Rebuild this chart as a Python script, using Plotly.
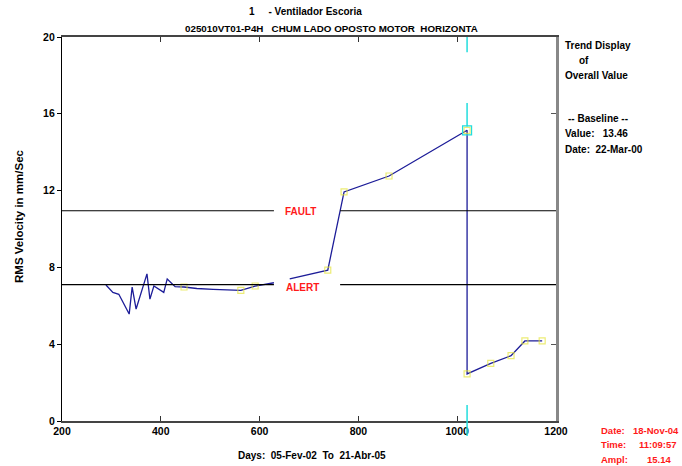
import plotly.graph_objects as go

# ---- data ----
days = [289, 303, 315, 336, 342, 350, 372, 378, 386, 406, 413, 429, 447, 473, 506, 544, 562, 591, 605, 629,
        None,
        661, 738, 771, 862, 1020, 1020, 1068, 1109, 1137, 1172]
rms_values = [7.08, 6.7, 6.6, 5.57, 6.97, 5.83, 7.66, 6.35, 7.03, 6.7, 7.4, 7.0, 6.98, 6.9, 6.86, 6.8, 6.8, 7.03, 7.1, 7.2,
              None,
              7.4, 7.86, 11.93, 12.76, 15.14, 2.45, 3.0, 3.4, 4.17, 4.17]
has_marker = [0, 0, 0, 0, 0, 0, 0, 0, 0, 0, 0, 0, 1, 0, 0, 0, 1, 1, 0, 0,
              0,
              0, 1, 1, 1, 1, 1, 1, 1, 1, 1]

fault_level = 10.95
alert_level = 7.1
cursor_day = 1020
cursor_ampl = 15.14

x_ticks = [200, 400, 600, 800, 1000, 1200]
y_ticks = [0, 4, 8, 12, 16, 20]

title_1 = "1     - Ventilador Escoria"
title_2 = "025010VT01-P4H   CHUM LADO OPOSTO MOTOR  HORIZONTA"
x_title = "Days:  05-Fev-02  To  21-Abr-05"
y_title = "RMS Velocity in mm/Sec"

# ---- layout helpers (pixel -> paper) ----
L, T, W, H = 62, 37, 494, 384
def px(x):
    return (x - L) / W
def py(y):
    return (T + H - y) / H

FONT = "Liberation Sans"
NAVY = "#1c1c98"
RED = "#ff1a1a"
YEL = "#e4e43a"

fig = go.Figure()

fig.add_trace(go.Scatter(
    x=days, y=rms_values, mode="lines+markers",
    line=dict(color=NAVY, width=1.3),
    marker=dict(symbol="square-open", size=[6 if m else 0 for m in has_marker],
                color=YEL, line=dict(width=1.2, color=YEL)),
    connectgaps=False, hoverinfo="skip", showlegend=False,
))

# cursor highlight marker
fig.add_trace(go.Scatter(
    x=[cursor_day], y=[cursor_ampl], mode="markers",
    marker=dict(symbol="square-open", size=9, color="#22dddd", line=dict(width=1.2, color="#22dddd")),
    hoverinfo="skip", showlegend=False,
))

# dummy trace so right axis is drawn
fig.add_trace(go.Scatter(x=[x_ticks[0]], y=[0], yaxis="y2", mode="markers",
                         marker=dict(opacity=0), hoverinfo="skip", showlegend=False))

shapes = []
# threshold lines with gaps for labels
for lvl in (fault_level, alert_level):
    shapes.append(dict(type="line", xref="x", yref="y", x0=200, x1=629, y0=lvl, y1=lvl,
                       line=dict(color="black", width=1.2)))
    shapes.append(dict(type="line", xref="x", yref="y", x0=763, x1=1200, y0=lvl, y1=lvl,
                       line=dict(color="black", width=1.2)))
# cyan cursor segments
CY = "#22dddd"
shapes.append(dict(type="line", xref="x", yref="y", x0=cursor_day, x1=cursor_day, y0=20, y1=19.2,
                   line=dict(color=CY, width=1.5)))
shapes.append(dict(type="line", xref="x", yref="y", x0=cursor_day, x1=cursor_day, y0=16.56, y1=cursor_ampl + 0.2,
                   line=dict(color=CY, width=1.5)))
shapes.append(dict(type="line", xref="x", yref="paper", x0=cursor_day, x1=cursor_day, y0=py(405), y1=py(436),
                   line=dict(color=CY, width=1.5)))
fig.update_layout(shapes=shapes)

def ann(text, x, y, xanchor="left", color="black", size=10, bg=None):
    d = dict(text=text, x=px(x), y=py(y), xref="paper", yref="paper", xanchor=xanchor, yanchor="middle",
             showarrow=False, font=dict(family=FONT, size=size, color=color))
    if bg:
        d["bgcolor"] = bg
    return d

annotations = [
    ann("<b>" + title_1.replace(" ", "&nbsp;") + "</b>", 247, 11, size=10),
    ann("<b>" + title_2.replace(" ", "&nbsp;") + "</b>", 183, 28, size=9.8),
    ann("<b>Trend Display</b>", 563, 45),
    ann("<b>of</b>", 577, 60),
    ann("<b>Overall Value</b>", 563, 75),
    ann("<b>-- Baseline --</b>", 566, 118),
    ann("<b>Value:&nbsp;&nbsp;&nbsp;13.46</b>", 563, 133),
    ann("<b>Date:&nbsp;&nbsp;22-Mar-00</b>", 563, 149),
    ann("<b>Date:</b>", 599, 430, color=RED, size=9.5),
    ann("<b>18-Nov-04</b>", 681, 430, xanchor="right", color=RED, size=9.5),
    ann("<b>Time:</b>", 599, 444, color=RED, size=9.5),
    ann("<b>11:09:57</b>", 637, 444, color=RED, size=9.5),
    ann("<b>Ampl:</b>", 599, 459, color=RED, size=9.5),
    ann("<b>%.2f</b>" % cursor_ampl, 645, 459, color=RED, size=9.5),
    ann("<b>FAULT</b>", 300, 211, xanchor="center", color=RED),
    ann("<b>ALERT</b>", 302, 287, xanchor="center", color=RED),
    ann("<b>" + x_title.replace(" ", "&nbsp;") + "</b>", 312, 455, xanchor="center"),
]
yt = ann("<b>" + y_title + "</b>", 19, 216, xanchor="center", size=11.5)
yt["textangle"] = -90
annotations.append(yt)

fig.update_layout(
    width=682, height=466,
    margin=dict(l=L, r=682 - L - W, t=T, b=466 - T - H, pad=0),
    paper_bgcolor="white", plot_bgcolor="white",
    font=dict(family=FONT, size=10, color="black"),
    annotations=annotations,
    xaxis=dict(range=[200, 1200], tickvals=x_ticks, ticktext=["<b>%d</b>" % v for v in x_ticks],
               ticks="inside", ticklen=5, tickcolor="#333", showline=True, linecolor="#444", linewidth=1.5,
               mirror="ticks", showgrid=False, zeroline=False, tickfont=dict(size=10.5, family=FONT)),
    yaxis=dict(range=[0, 20], tickvals=y_ticks, ticktext=["<b>%d</b>" % v for v in y_ticks],
               ticks="outside", ticklen=4, tickcolor="black", showline=True, linecolor="black", linewidth=1.2,
               showgrid=False, zeroline=False, tickfont=dict(size=10.5, family=FONT)),
    yaxis2=dict(range=[0, 20], overlaying="y", side="right", tickvals=[4, 16], ticks="inside", ticklen=5,
                tickcolor="#555", showline=True, linecolor="#888", linewidth=2.5, showticklabels=False,
                showgrid=False, zeroline=False),
)

fig.write_html("out.html", config={"displayModeBar": False},
               post_script="document.body.style.margin='0';document.body.style.overflow='hidden';")
